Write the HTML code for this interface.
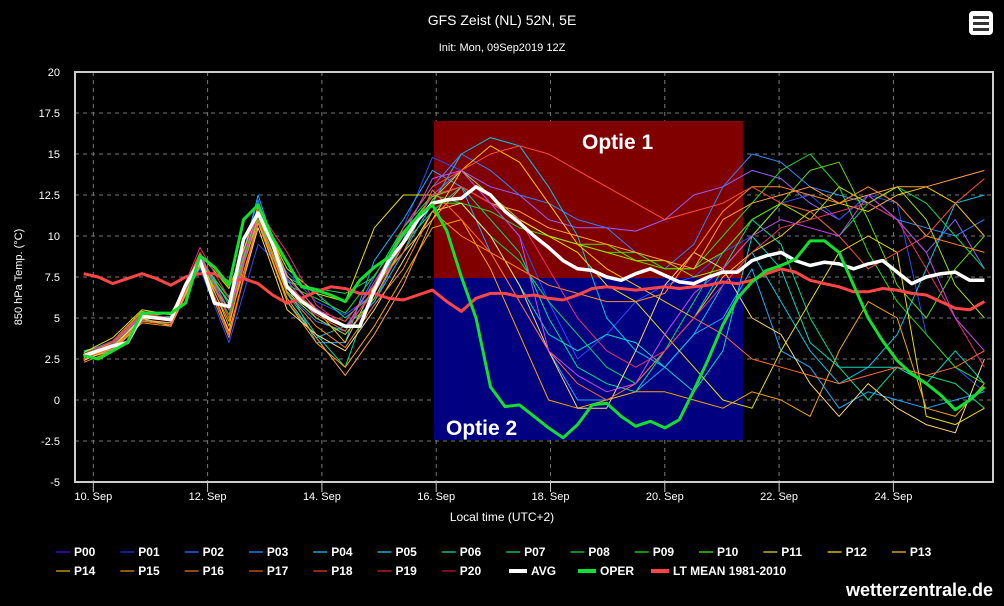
<!DOCTYPE html>
<html><head><meta charset="utf-8">
<style>
html,body{margin:0;padding:0;background:#000;}
body{width:1004px;height:601px;overflow:hidden;font-family:"Liberation Sans",sans-serif;}
svg text{font-family:"Liberation Sans",sans-serif;}
</style></head>
<body>
<svg id="chart" width="1004" height="601" viewBox="0 0 1004 601" xmlns="http://www.w3.org/2000/svg">
<rect x="0" y="0" width="1004" height="601" fill="#000"/>
<text x="502" y="25" fill="#fff" font-size="14" text-anchor="middle">GFS Zeist (NL) 52N, 5E</text>
<text x="502" y="51" fill="#fff" font-size="11" text-anchor="middle">Init: Mon, 09Sep2019 12Z</text>
<g>
<rect x="969" y="11" width="24" height="24" rx="4" fill="#fff"/>
<rect x="973" y="16" width="16" height="3" fill="#333"/>
<rect x="973" y="22" width="16" height="3" fill="#333"/>
<rect x="973" y="28" width="16" height="3" fill="#333"/>
</g>
<text transform="translate(22,277) rotate(-90)" fill="#fff" font-size="11" text-anchor="middle">850 hPa Temp. (°C)</text>
<text x="502" y="521" fill="#fff" font-size="12" text-anchor="middle">Local time (UTC+2)</text>
<text x="993" y="596" fill="#fff" font-size="18" font-weight="bold" text-anchor="end">wetterzentrale.de</text>
<g id="grid"></g>
<g id="boxes"></g>
<g id="series"></g>
<g id="frame"></g>
<g id="legend"></g>
</svg>
<script>
// ---- data ----
var yTicks = [20, 17.5, 15, 12.5, 10, 7.5, 5, 2.5, 0, -2.5, -5];
var xTickDays = [0, 2, 4, 6, 8, 10, 12, 14];
var xTickLabels = ["10. Sep","12. Sep","14. Sep","16. Sep","18. Sep","20. Sep","22. Sep","24. Sep"];
var avgValues = [2.7,3.0,3.3,3.5,5.1,5.0,4.9,7.0,8.5,5.9,5.7,9.8,11.4,9.5,6.9,6.0,5.4,4.9,4.5,4.5,6.7,8.5,9.6,11.0,12.0,12.2,12.3,13.0,12.5,11.5,10.8,10.0,9.3,8.5,8.0,7.9,7.5,7.3,7.7,8.0,7.6,7.2,7.1,7.5,7.8,7.8,8.5,8.8,9.0,8.5,8.2,8.4,8.3,8.0,8.3,8.5,7.8,7.1,7.5,7.7,7.8,7.3,7.3];
var operValues = [2.7,2.5,3.0,3.5,5.3,5.3,5.3,5.9,8.8,8.1,7.0,11.0,11.9,9.9,8.4,6.9,6.7,6.4,6.0,7.3,8.1,8.7,10.2,11.2,11.9,10.3,7.5,5.0,0.8,-0.4,-0.3,-1.0,-1.7,-2.3,-1.5,-0.3,-0.2,-1.0,-1.6,-1.3,-1.7,-1.2,0.6,2.5,4.6,6.2,7.2,7.9,8.2,8.6,9.7,9.7,9.0,7.0,5.0,3.6,2.4,1.6,1.0,0.3,-0.6,0.0,0.8];
var ltMeanValues = [7.7,7.5,7.1,7.4,7.7,7.4,7.0,7.5,7.7,7.7,7.2,7.4,7.1,6.4,5.9,6.2,6.6,6.9,6.8,6.5,6.5,6.2,6.1,6.4,6.7,6.0,5.4,6.2,6.5,6.5,6.3,6.4,6.2,6.1,6.4,6.8,6.9,6.8,6.7,6.8,6.9,6.8,6.9,7.0,7.2,7.1,7.3,7.7,8.0,7.8,7.3,7.1,6.9,6.6,6.6,6.8,6.7,6.5,6.4,6.0,5.6,5.5,6.0];
var memberNames = ["P00","P01","P02","P03","P04","P05","P06","P07","P08","P09","P10","P11","P12","P13","P14","P15","P16","P17","P18","P19","P20"];
var p00 = [2.8,3.5,5.3,4.8,8.6,5.0,11.8,7.3,5.0,4.0,6.0,9.5,12.5,14,13,12.5,11,10.5,10.5,10.3,11,12.5,13,14,13.5,12,11,12.5,11,9,11,8];
var p01 = [2.6,3.2,5.0,5.0,8.0,3.5,9.5,7.8,6.0,5.2,6.5,10.5,14.8,14,12,10,6,2.5,4,6,7,7.5,9,10,12,12.5,11,12.5,12,4,2,0.5];
var p02 = [2.9,3.6,5.4,5.2,8.3,6.0,12.2,6.5,4.8,4.2,7.5,10.5,13.0,15,14,12.5,12,11,10.5,9,8,9.5,13,15,14.5,13,12.5,12,11,10.5,10,11];
var p03 = [2.5,3.1,4.9,4.6,8.7,5.5,12.5,7.0,3.5,3.5,8.5,11.0,14.0,13,9,6,3,0,0,0.5,2,4,5,8,3,2,-0.5,0.5,0,-0.5,0,0.5];
var p04 = [3.0,3.4,5.2,4.8,8.4,6.3,11.0,6.0,3.8,4.5,6.0,9.0,12.0,15,16,15.5,13,10,5,3,2,4,7,9,6,3,1,2,4,8,12,12.5];
var p05 = [2.7,3.3,5.0,5.1,8.1,6.0,11.5,7.5,6.5,5.0,6.5,9.8,12.5,12,10,7,4,3,4,3.5,2,0.5,3,10,8,3.5,2,2,2,1,3,1];
var p06 = [2.6,3.0,4.8,4.7,8.8,5.8,11.3,6.5,4.0,2.0,7.0,9.5,11.5,13,11,9,5,2,1,0.5,3,5,8,11,9.5,5,2,0,2,1.5,1,-0.5];
var p07 = [2.8,3.4,5.2,5.0,8.5,5.2,11.8,7.2,6.8,6.5,7.5,10.5,12.5,12,10,8.5,6,4,2,1,3,6,9,11,12,11.5,10,12,13,12,10,8];
var p08 = [2.9,3.5,5.3,4.9,8.6,6.2,11.6,7.0,6.2,5.3,7.6,10.0,12.0,12,11.5,10.5,10,9.5,9,9,8,8,10,12,14,15,13,9,6,4,2,1];
var p09 = [2.7,3.2,5.1,5.3,8.4,6.0,11.2,6.8,5.5,4.8,7.0,10.2,12.4,13,12,11,10,9.5,9.5,8.5,8,8,9,11,12,14,14.5,11,7,5,8,10];
var p10 = [2.8,3.3,5.0,5.0,8.2,5.5,11.0,6.6,5.0,4.0,6.2,9.5,12.2,14,12.5,11,10,9.5,9,8.5,8.5,7.5,8,10,12,11,13,12,13,11,7,5];
var p11 = [2.9,3.8,5.5,5.2,8.9,6.8,11.5,8.0,6.5,6.0,10.5,12.5,12.5,13,12,11,10,9,7,6,4,2,0,-0.5,3,6,9,10,9,-1,-1.5,-0.5];
var p12 = [2.6,3.6,5.4,4.8,8.7,4.5,11.9,7.6,5.5,3.5,7.0,9.0,11.0,14,15.5,14.5,12,9.5,8,7,6,5,7.5,9,10,11.5,12,11.5,12.5,13,12,10];
var p13 = [2.5,3.0,4.8,4.6,8.3,4.8,10.8,6.0,3.5,2.0,4.5,7.5,10.5,11,8,4,0,-0.5,0,0.5,0.5,0,-0.5,0.5,0,-1,3,6,5,-0.5,-1,1];
var p14 = [2.4,3.2,5.0,4.5,8.4,4.2,10.5,5.5,4.0,3.0,5.5,8.5,11.5,12,10,7,3,-0.5,-0.5,3,7,9,8,5,4,1,-1,1,-0.5,-1.5,-2,2.5];
var p15 = [2.6,3.1,4.9,4.7,8.5,4.0,10.8,6.2,3.8,1.5,4.0,7.0,11.0,13,12,11.5,10.5,10,9.5,9,8.5,8,11,12,12.5,13,12,12.5,13,13,13.5,14];
var p16 = [2.3,3.0,4.7,4.5,8.2,3.8,11.0,6.5,4.5,3.2,5.8,8.0,11.5,10,9,8,7,6.5,6,6,6.5,9,11.5,13,13,12.5,12,13,12,10,9.5,9];
var p17 = [2.5,3.2,4.8,4.6,8.6,4.0,11.0,6.8,5.2,4.2,6.8,9.0,12.8,11,9,6,3,1,0,1,3,5,4,2.5,2,1.5,1,1.5,2,1.5,2,3];
var p18 = [2.7,3.5,5.2,5.0,9.0,5.0,11.5,7.0,5.5,4.8,7.0,10.5,13.0,14,15,15.5,15,14,13,12,11,11.5,12,13,12,11.5,10,8,9,10,12,13.5];
var p19 = [2.8,3.6,5.3,5.0,9.3,6.2,11.6,9.0,5.8,4.5,6.5,9.5,12.5,13,12,11,8,5,3,2,3,5,7,9,10.5,11,11.5,12,11,8,5,2];
var p20 = [2.7,3.4,5.1,4.8,8.7,5.5,11.4,7.4,5.6,4.4,7.2,10.0,13.5,14,12,10,3,1.5,0.5,1,4,6.5,8,10,11,10.5,10,12.5,11,9,5,3];
var memberValues = [p00,p01,p02,p03,p04,p05,p06,p07,p08,p09,p10,p11,p12,p13,p14,p15,p16,p17,p18,p19,p20];

// ---- styles (not data) ----
var memberColors = ["#9a5cff","#2a4cff","#2f86ff","#1ea8ff","#00c8e8","#00d8c0","#00dc90","#00dc58","#20dc20","#60dc00","#a6e000","#e8e000","#f5c800","#f5a800","#ffd870","#ffa040","#ff8a20","#ff6a30","#ff4a40","#e8306a","#c848e8"];
var legendColors = ["#2a0a8a","#10208a","#1a4a9a","#15609a","#187a9a","#11858a","#0f8a6a","#0f8a45","#108a25","#109010","#2a9a00","#8a8a10","#9a8a10","#9a7a10","#8a6a10","#8a5a10","#8a4a10","#8a3a10","#8a2a14","#801818","#701020"];

var NS = "http://www.w3.org/2000/svg";
var L = 75, R = 993, T = 72, B = 482;
var yMin = -5, yMax = 20;
function yS(v){ return B - (v - yMin) / (yMax - yMin) * (B - T); }
function xS(h){ return 93.3 + h * (114.3 / 48); }
var stepHours = 6.1;
var times6 = [];
for (var k = 0; k < avgValues.length; k++) times6.push(-4 + k * stepHours);
var times12 = [];
for (var k = 0; k < p00.length; k++) times12.push(-4 + k * stepHours * 2);

function mk(tag, attrs, parent){
  var e = document.createElementNS(NS, tag);
  for (var a in attrs) e.setAttribute(a, attrs[a]);
  parent.appendChild(e);
  return e;
}

// grid
var grid = document.getElementById('grid');
yTicks.forEach(function(t){
  var y = yS(t);
  if (t !== yMin && t !== yMax) {
    var gl = mk('line', {x1:L, x2:R, y1:y, y2:y, stroke:'#777', 'stroke-dasharray':'4,4', 'stroke-width':1}, grid);
    
    
  }
  var tl = mk('text', {x:60, y:y+4, fill:'#fff', 'font-size':11, 'text-anchor':'end'}, grid);
  tl.textContent = String(t);
  
  
});
xTickDays.forEach(function(d, i){
  var x = xS(d * 24);
  var vl = mk('line', {x1:x, x2:x, y1:T, y2:B, stroke:'#777', 'stroke-dasharray':'4,4', 'stroke-width':1}, grid);
  
  
  var tk = mk('line', {x1:x, x2:x, y1:B, y2:B+10, stroke:'#ccc', 'stroke-width':1}, grid);
  
  
  var xl = mk('text', {x:x, y:500, fill:'#fff', 'font-size':11, 'text-anchor':'middle'}, grid);
  xl.textContent = xTickLabels[i];
  
  
});

// annotation boxes
var boxes = document.getElementById('boxes');
var b1 = mk('rect', {x:434, y:121, width:309, height:157, fill:'#800000'}, boxes);


var b2 = mk('rect', {x:434, y:278, width:309, height:162, fill:'#000080'}, boxes);



// series
var series = document.getElementById('series');
function drawLine(times, vals, color, w, name){
  var d = '';
  for (var i = 0; i < vals.length; i++) d += (i ? 'L' : 'M') + xS(times[i]).toFixed(1) + ',' + yS(vals[i]).toFixed(1);
  var p = mk('path', {d:d, fill:'none', stroke:color, 'stroke-width':w, 'stroke-linejoin':'round'}, series);
  
  
  return p;
}
memberValues.forEach(function(vals, i){
  drawLine(times12, vals, memberColors[i], 1, 'series-' + memberNames[i].toLowerCase());
});
drawLine(times6, ltMeanValues, '#ff4545', 3, 'series-lt-mean');
drawLine(times6, avgValues, '#ffffff', 3.5, 'series-avg');
drawLine(times6, operValues, '#10e030', 3, 'series-oper');

// annotation labels
var o1 = mk('text', {x:582, y:149, fill:'#fff', 'font-size':21, 'font-weight':'bold'}, series);
o1.textContent = 'Optie 1';


var o2 = mk('text', {x:446, y:435, fill:'#fff', 'font-size':21, 'font-weight':'bold'}, series);
o2.textContent = 'Optie 2';



// frame
var frame = document.getElementById('frame');
var fr = mk('rect', {x:L, y:T, width:R-L, height:B-T, fill:'none', stroke:'#ccc', 'stroke-width':2}, frame);



// legend
var legend = document.getElementById('legend');
function legendEntry(x, y, color, w, label, lw){
  var g = mk('g', {}, legend);
  
  
  var ln = mk('line', {x1:x, x2:x+lw, y1:y, y2:y, stroke:color, 'stroke-width':w}, g);
  
  
  var t = mk('text', {x:x+lw+4, y:y+4, fill:'#fff', 'font-size':12, 'font-weight':'bold'}, g);
  t.textContent = label;
  
  
}
memberNames.forEach(function(n, i){
  var row = i < 14 ? 0 : 1;
  var col = i < 14 ? i : i - 14;
  legendEntry(56 + col * 64.3, 552 + row * 19, legendColors[i], 2, n, 14);
});
legendEntry(509, 571, '#ffffff', 4, 'AVG', 18);
legendEntry(578, 571, '#10e030', 4, 'OPER', 18);
legendEntry(651, 571, '#ff4545', 4, 'LT MEAN 1981-2010', 18);
</script>
</body></html>
